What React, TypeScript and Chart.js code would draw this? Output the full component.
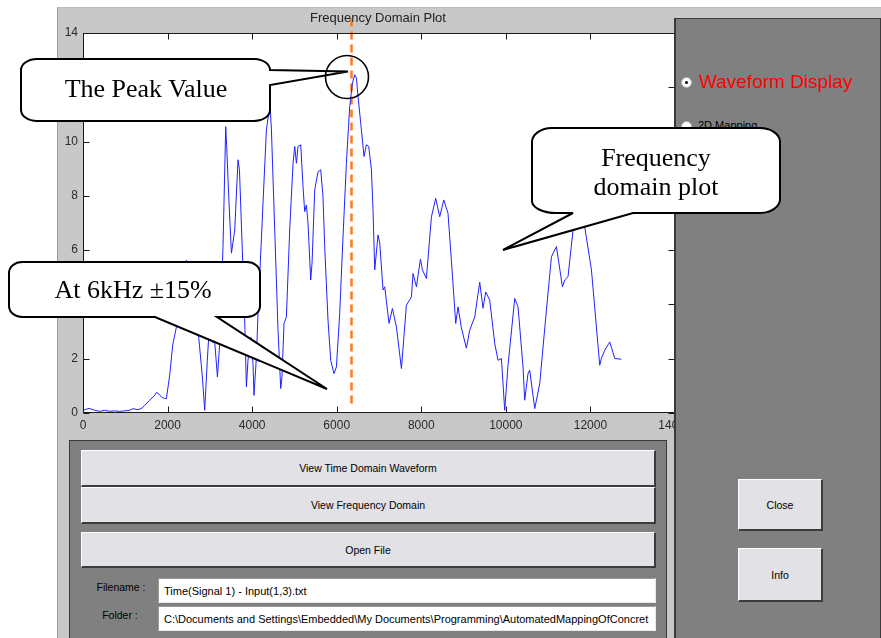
import React, { useEffect, useRef } from "react";
import { Chart, registerables } from "chart.js";

Chart.register(...registerables);

// ---------- data ----------
const freqHz = [0, 80, 140, 277, 395, 513, 632, 750, 868, 986,
  1104, 1183, 1294, 1388, 1459, 1577, 1695, 1736, 1800, 1861,
  1920, 1972, 2050, 2121, 2209, 2287, 2358, 2445, 2523, 2641,
  2736, 2820, 2878, 2940, 2996, 3067, 3115, 3179, 3233, 3311,
  3375, 3398, 3450, 3510, 3588, 3666, 3700, 3784, 3830, 3864,
  3902, 3966, 4020, 4044, 4101, 4139, 4257, 4337, 4392, 4420,
  4456, 4534, 4612, 4676, 4706, 4754, 4810, 4888, 4967, 5007,
  5047, 5085, 5149, 5203, 5243, 5283, 5321, 5385, 5416, 5480,
  5558, 5622, 5676, 5716, 5794, 5858, 5936, 5993, 6071, 6149,
  6229, 6307, 6371, 6425, 6466, 6504, 6584, 6646, 6702, 6757,
  6821, 6859, 6899, 6977, 7017, 7095, 7135, 7237, 7317, 7412,
  7530, 7648, 7767, 7805, 7885, 7980, 8027, 8121, 8240, 8341,
  8436, 8531, 8632, 8736, 8814, 8869, 8949, 9067, 9145, 9264,
  9382, 9460, 9524, 9618, 9737, 9815, 9895, 9973, 10051, 10210,
  10288, 10406, 10446, 10524, 10564, 10683, 10801, 10959, 11078, 11196,
  11338, 11392, 11470, 11589, 11723, 11865, 12024, 12220, 12260, 12338,
  12457, 12575, 12733];

const magnitude = [0.10, 0.14, 0.17, 0.10, 0.06, 0.10, 0.06, 0.08, 0.06, 0.08,
  0.10, 0.16, 0.12, 0.17, 0.28, 0.47, 0.65, 0.76, 0.69, 0.58,
  0.54, 0.53, 1.39, 2.5, 3.17, 4.16, 5.27, 5.63, 5.1, 3.97,
  2.8, 1.39, 0.10, 1.94, 3.42, 2.6, 2.62, 1.33, 2.57, 6.13,
  10.55, 9.82, 7.85, 5.89, 6.74, 9.33, 8.96, 5.27, 3.05, 0.96,
  1.94, 2.80, 1.83, 0.65, 2.07, 3.67, 7.73, 10.43, 11.05, 11.43,
  10.43, 6.74, 3.05, 0.90, 1.33, 3.30, 3.54, 6.74, 9.20, 9.82,
  9.20, 9.82, 9.88, 8.34, 7.42, 7.66, 6.99, 4.90, 5.51, 8.22,
  8.89, 8.96, 7.97, 6.13, 3.42, 1.94, 1.45, 1.70, 3.67, 6.49,
  9.20, 11.29, 12.15, 12.46, 12.34, 11.66, 10.43, 9.45, 9.88, 9.82,
  8.96, 7.47, 5.27, 6.56, 6.26, 4.53, 4.65, 3.30, 3.85, 3.17,
  1.64, 3.97, 4.28, 5.14, 4.65, 5.67, 5.27, 4.96, 7.23, 7.91,
  7.23, 7.85, 7.36, 5.08, 3.30, 3.91, 3.13, 2.39, 3.05, 3.54,
  4.82, 3.86, 4.46, 4.16, 2.56, 1.94, 2.01, 0.10, 1.76, 4.22,
  3.91, 1.70, 0.47, 1.45, 1.58, 0.16, 1.08, 3.79, 5.76, 6.13,
  4.65, 4.90, 5.02, 6.74, 7.66, 6.86, 5.27, 1.76, 2.02, 2.31,
  2.62, 2.01, 1.98];

const markerFreq = [6350, 6350];
const markerLevel = [0.35, 14.55];

const xTickValues = [0, 2000, 4000, 6000, 8000, 10000, 12000, 14000];
const yTickValues = [0, 2, 4, 6, 8, 10, 12, 14];

const plotTitle = "Frequency Domain Plot";
const folderPath = "C:\\Documents and Settings\\Embedded\\My Documents\\Programming\\AutomatedMappingOfConcret";
const fileName = "Time(Signal 1) - Input(1,3).txt";

const SANS = '"Liberation Sans", Arial, sans-serif';
const SERIF = '"Liberation Serif", "Times New Roman", serif';

const matlabAxes = {
  id: "matlabAxes",
  beforeDraw(chart: any) {
    const { ctx, chartArea: a } = chart;
    ctx.save();
    ctx.fillStyle = "#ffffff";
    ctx.fillRect(a.left, a.top, a.right - a.left, a.bottom - a.top);
    ctx.restore();
  },
  afterDraw(chart: any) {
    const { ctx, chartArea: a, scales } = chart;
    ctx.save();
    ctx.strokeStyle = "#1a1a1a";
    ctx.lineWidth = 1;
    const L = Math.round(a.left) + 0.5;
    const R = Math.round(a.right) - 0.5;
    const T = Math.round(a.top) + 0.5;
    const B = Math.round(a.bottom) - 0.5;
    ctx.strokeRect(L, T, R - L, B - T);
    ctx.beginPath();
    xTickValues.forEach((v) => {
      const px = Math.round(scales.x.getPixelForValue(v)) + 0.5;
      ctx.moveTo(px, B); ctx.lineTo(px, B - 6);
      ctx.moveTo(px, T); ctx.lineTo(px, T + 6);
    });
    yTickValues.forEach((v) => {
      const py = Math.round(scales.y.getPixelForValue(v)) + 0.5;
      ctx.moveTo(L, py); ctx.lineTo(L + 6, py);
      ctx.moveTo(R, py); ctx.lineTo(R - 6, py);
    });
    ctx.stroke();
    ctx.fillStyle = "#222";
    ctx.font = `13px ${SANS}`;
    ctx.textAlign = "center";
    ctx.textBaseline = "middle";
    ctx.fillText(plotTitle, (a.left + a.right) / 2 - 1, 18);
    ctx.restore();
  },
};

function Button({ x, y, w, h, label }: { x: number; y: number; w: number; h: number; label: string }) {
  return (
    <div style={{
      position: "absolute", left: x, top: y, width: w, height: h, boxSizing: "border-box",
      background: "#e1e1e6", borderTop: "1px solid #ffffff", borderLeft: "1px solid #ffffff",
      borderRight: "2px solid #3c3c3c", borderBottom: "2px solid #3c3c3c",
      display: "flex", alignItems: "center", justifyContent: "center",
      fontFamily: SANS, fontSize: 10.5, color: "#000",
    }}>{label}</div>
  );
}

function EditBox({ x, y, w, h, text }: { x: number; y: number; w: number; h: number; text: string }) {
  return (
    <div style={{
      position: "absolute", left: x, top: y, width: w, height: h, boxSizing: "border-box",
      background: "#ffffff", borderTop: "1px solid #9a9a9a", borderLeft: "1px solid #9a9a9a",
      borderRight: "1px solid #e8e8e8", borderBottom: "1px solid #e8e8e8",
      display: "flex", alignItems: "center", paddingLeft: 5, overflow: "hidden", whiteSpace: "nowrap",
      fontFamily: SANS, fontSize: 11, color: "#000",
    }}>{text}</div>
  );
}

export default function App() {
  const ref = useRef<HTMLCanvasElement>(null);

  useEffect(() => {
    const canvas = ref.current;
    if (!canvas) return;
    const chart = new Chart(canvas, {
      type: "line",
      data: {
        datasets: [
          {
            label: "spectrum",
            data: freqHz.map((f, i) => ({ x: f, y: magnitude[i] })),
            borderColor: "#2222ff",
            borderWidth: 1,
            pointRadius: 0,
            tension: 0,
            fill: false,
          },
          {
            label: "6 kHz marker",
            data: markerFreq.map((f, i) => ({ x: f, y: markerLevel[i] })),
            borderColor: "#ff7a1a",
            borderWidth: 2.5,
            borderDash: [8, 5],
            pointRadius: 0,
            fill: false,
            clip: false as any,
          },
        ],
      },
      options: {
        animation: false,
        responsive: false,
        devicePixelRatio: 1,
        events: [],
        layout: { padding: { left: 0, top: 33, right: 206, bottom: 0 } },
        plugins: { legend: { display: false }, tooltip: { enabled: false }, title: { display: false } },
        scales: {
          x: {
            type: "linear",
            min: 0,
            max: 14000,
            afterBuildTicks: (s: any) => { s.ticks = xTickValues.map((v) => ({ value: v })); },
            afterFit: (s: any) => { s.height = 27; },
            ticks: {
              callback: (v: any) => String(v),
              font: { family: SANS, size: 12 },
              color: "#2a2a2a",
              padding: 5,
              maxRotation: 0,
              autoSkip: false,
            },
            grid: { display: false, drawTicks: false },
            border: { display: false },
          },
          y: {
            type: "linear",
            min: 0,
            max: 14,
            afterBuildTicks: (s: any) => { s.ticks = yTickValues.map((v) => ({ value: v })); },
            afterFit: (s: any) => { s.width = 83; },
            ticks: {
              callback: (v: any) => String(v),
              font: { family: SANS, size: 12 },
              color: "#2a2a2a",
              padding: 5,
            },
            grid: { display: false, drawTicks: false },
            border: { display: false },
          },
        },
      },
      plugins: [matlabAxes],
    });
    return () => chart.destroy();
  }, []);

  return (
    <div style={{ position: "absolute", left: 0, top: 0, width: 881, height: 638, overflow: "hidden", background: "#fff" }}>
      {/* figure background */}
      <div style={{ position: "absolute", left: 57, top: 7, width: 824, height: 631, background: "#c8c8c8", borderLeft: "1px solid #9c9c9c", borderTop: "1px solid #bcbcbc", boxSizing: "border-box" }} />
      <canvas ref={ref} width={881} height={440} style={{ position: "absolute", left: 0, top: 0, width: 881, height: 440 }} />

      {/* right control panel */}
      <div style={{ position: "absolute", left: 674, top: 18, width: 207, height: 620, background: "#808080", borderLeft: "2px solid #3a3a3a", borderTop: "1px solid #3a3a3a", borderRight: "1px solid #3a3a3a", boxSizing: "border-box" }} />
      <div style={{ position: "absolute", left: 681, top: 77, width: 11, height: 11, borderRadius: "50%", background: "#fff", border: "1px solid #b0b0b0", boxSizing: "border-box" }}>
        <div style={{ position: "absolute", left: 3, top: 3, width: 3, height: 3, borderRadius: "50%", background: "#000" }} />
      </div>
      <div style={{ position: "absolute", left: 699, top: 71, fontFamily: SANS, fontSize: 19, lineHeight: "22px", color: "#ff0000", whiteSpace: "nowrap" }}>Waveform Display</div>
      <div style={{ position: "absolute", left: 681, top: 121, width: 11, height: 11, borderRadius: "50%", background: "#fff", border: "1px solid #b0b0b0", boxSizing: "border-box" }} />
      <div style={{ position: "absolute", left: 698, top: 119, fontFamily: SANS, fontSize: 11, lineHeight: "13px", color: "#000", whiteSpace: "nowrap" }}>2D Mapping</div>
      <Button x={738} y={479} w={85} h={52} label="Close" />
      <Button x={738} y={548} w={85} h={54} label="Info" />

      {/* bottom panel */}
      <div style={{ position: "absolute", left: 69, top: 440, width: 598, height: 200, background: "#808080", border: "1px solid #3a3a3a", boxSizing: "border-box" }} />
      <Button x={81} y={450} w={575} h={37} label="View Time Domain Waveform" />
      <Button x={81} y={487} w={575} h={37} label="View Frequency Domain" />
      <Button x={81} y={532} w={575} h={36} label="Open File" />
      <div style={{ position: "absolute", left: 82, top: 580, width: 78, textAlign: "center", fontFamily: SANS, fontSize: 10.5, lineHeight: "14px", color: "#000" }}>Filename :</div>
      <div style={{ position: "absolute", left: 82, top: 608, width: 76, textAlign: "center", fontFamily: SANS, fontSize: 10.5, lineHeight: "14px", color: "#000" }}>Folder :</div>
      <EditBox x={158} y={578} w={498} h={25} text={fileName} />
      <EditBox x={158} y={606} w={498} h={25} text={folderPath} />

      {/* callouts */}
      <svg width={881} height={638} style={{ position: "absolute", left: 0, top: 0 }}>
        <path d="M37,59 L254,59 A16,11 0 0 1 270,70 L348,71.5 L270,85 L270,110 A16,11 0 0 1 254,121 L37,121 A16,11 0 0 1 21,110 L21,70 A16,11 0 0 1 37,59 Z"
          fill="#fff" stroke="#000" strokeWidth={2} strokeLinejoin="miter" />
        <text x={146} y={97} textAnchor="middle" fontFamily={SERIF} fontSize={26} fill="#000">The Peak Value</text>
        <circle cx={347} cy={77} r={21.5} fill="none" stroke="#000" strokeWidth={1.6} />

        <path d="M552,128 L760,128 A20,14 0 0 1 780,142 L780,199 A20,14 0 0 1 760,213 L633,213 L503,250 L573,213 L556,213 A24,12 0 0 1 532,201 L532,142 A20,14 0 0 1 552,128 Z"
          fill="#fff" stroke="#000" strokeWidth={2} />
        <text x={656} y={166} textAnchor="middle" fontFamily={SERIF} fontSize={26} fill="#000">Frequency</text>
        <text x={656} y={195} textAnchor="middle" fontFamily={SERIF} fontSize={26} fill="#000">domain plot</text>

        <path d="M22,262 L247,262 A13,11 0 0 1 260,273 L260,306 A13,11 0 0 1 247,317 L217,317 L327,389 L155,317 L22,317 A13,11 0 0 1 9,306 L9,273 A13,11 0 0 1 22,262 Z"
          fill="#fff" stroke="#000" strokeWidth={2} />
        <text x={133} y={298} textAnchor="middle" fontFamily={SERIF} fontSize={26} fill="#000">At 6kHz ±15%</text>
      </svg>
    </div>
  );
}
